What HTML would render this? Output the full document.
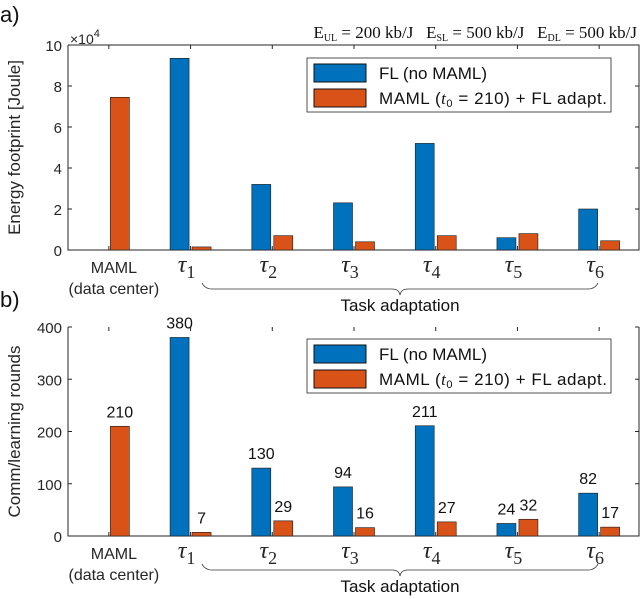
<!DOCTYPE html>
<html><head><meta charset="utf-8"><style>
html,body{margin:0;padding:0;background:#fff;}
svg{display:block;font-family:"Liberation Sans",sans-serif;}
</style></head><body>
<svg id="c" width="640" height="599" viewBox="0 0 640 599"></svg>
<script>
const categories=["MAML","τ1","τ2","τ3","τ4","τ5","τ6"];
const energyFL=[null,9.35,3.2,2.3,5.2,0.6,2.0];
const energyMAML=[7.45,0.15,0.7,0.4,0.7,0.8,0.45];
const roundsFL=[null,380,130,94,211,24,82];
const roundsMAML=[210,7,29,16,27,32,17];
const energyTicks=[0,2,4,6,8,10];
const roundsTicks=[0,100,200,300,400];

const NS="http://www.w3.org/2000/svg";
const svg=document.getElementById('c');
function mk(tag,attrs,parent){const e=document.createElementNS(NS,tag);for(const k in attrs)e.setAttribute(k,attrs[k]);(parent||svg).appendChild(e);return e;}
const X0=68,X1=640;
function xs(i){return X0+(i+0.5)*(X1-X0)/7;}
const BW=19,OFF=11;

function panel(cfg){
  const g=mk('g',{});
  
  
  const ys=v=>cfg.yb-(v-0)/(cfg.ymax)*(cfg.yb-cfg.yt);
  const ax=mk('path',{d:`M${X0} ${cfg.yt}V${cfg.yb}H${X1-1}V${cfg.yt}`+(cfg.topLine?`H${X0}`:''),fill:'none',stroke:'#262626','stroke-width':1},g);
  
  cfg.ticks.forEach(t=>{
    const y=ys(t);
    mk('line',{x1:X0,x2:X0+4,y1:y,y2:y,stroke:'#262626'},g);
    mk('line',{x1:X1-1,x2:X1-5,y1:y,y2:y,stroke:'#262626'},g);
    const tx=mk('text',{x:X0-6,y:y+6,'text-anchor':'end','font-size':15,fill:'#262626'},g);
    tx.textContent=t;
    
  });
  categories.forEach((c,i)=>{
    const x=xs(i);
    mk('line',{x1:x,x2:x,y1:cfg.yb,y2:cfg.yb-4,stroke:'#262626'},g);
    mk('line',{x1:x,x2:x,y1:cfg.yt,y2:cfg.yt+4,stroke:'#262626'},g);
    let lab;
    if(i===0){
      lab=mk('text',{x:x+5,y:cfg.yb+23,'text-anchor':'middle','font-size':16,fill:'#262626'},g);
      lab.textContent='MAML';
      const l2=mk('text',{x:x+5,y:cfg.yb+44,'text-anchor':'middle','font-size':16,fill:'#262626'},g);
      l2.textContent='(data center)';
      
    } else {
      lab=mk('text',{x:x-4,y:cfg.yb+22,'text-anchor':'middle','font-size':24,'font-style':'italic','font-family':'"Liberation Serif",serif',fill:'#262626'},g);
      lab.textContent='τ';
      const s=mk('tspan',{'font-size':18,'font-style':'normal',dy:6},lab);s.textContent=String(i);
    }
    
  });
  for(let i=0;i<categories.length;i++){
    const x=xs(i);
    if(cfg.fl[i]!=null){
      const y=ys(cfg.fl[i]);
      const r=mk('rect',{x:x-OFF-BW/2,y:y,width:BW,height:cfg.yb-y,fill:'#0072BD',stroke:'#1a1a1a','stroke-width':0.6},g);
      
      if(cfg.labels){const t=mk('text',{x:x-OFF,y:y-9,'text-anchor':'middle','font-size':16,fill:'#111'},g);t.textContent=cfg.fl[i];
        }
    }
    const y=ys(cfg.maml[i]);
    const r=mk('rect',{x:x+OFF-BW/2,y:y,width:BW,height:cfg.yb-y,fill:'#D95319',stroke:'#1a1a1a','stroke-width':0.6},g);
    
    if(cfg.labels){const t=mk('text',{x:x+OFF,y:y-9,'text-anchor':'middle','font-size':16,fill:'#111'},g);t.textContent=cfg.maml[i];
      }
  }
  const yt=mk('text',{x:0,y:0,'text-anchor':'middle','font-size':17,fill:'#262626',transform:`translate(${cfg.ytx},${(cfg.yt+cfg.yb)/2}) rotate(-90)`},g);
  yt.textContent=cfg.ytitle;
  const lg=mk('g',{},g);
  const ly=cfg.ly;
  mk('rect',{x:307,y:ly,width:304,height:54,fill:'#fff',stroke:'#262626','stroke-width':0.8},lg);
  mk('rect',{x:314,y:ly+6,width:52,height:18,fill:'#0072BD',stroke:'#111'},lg);
  mk('rect',{x:314,y:ly+31,width:52,height:18,fill:'#D95319',stroke:'#111'},lg);
  const t1=mk('text',{x:379,y:ly+21,'font-size':17,fill:'#111'},lg);t1.textContent='FL (no MAML)';
  
  const t2=mk('text',{x:379,y:ly+46,'font-size':17,fill:'#111',textLength:228},lg);
  t2.innerHTML='MAML (<tspan font-style="italic" font-family="Liberation Serif,serif">t</tspan><tspan font-size="11" dy="3">0</tspan><tspan dy="-3"> = 210) + FL adapt.</tspan>';
  
  const by=cfg.yb+cfg.bOff;
  const br=mk('path',{d:`M202 ${by}q3 6 10 6H392q7 0 8 6q1 -6 8 -6H588q7 0 10 -6`,fill:'none',stroke:'#333','stroke-width':0.8},g);
  
  const ta=mk('text',{x:400,y:by+cfg.tOff,'text-anchor':'middle','font-size':17,fill:'#111'},g);
  ta.textContent='Task adaptation';
}
panel({name:'energy-chart',yt:45,yb:250,ymax:10,ticks:energyTicks,fl:energyFL,maml:energyMAML,labels:false,ytitle:'Energy footprint [Joule]',ytx:20,ly:58,topLine:true,bOff:33,tOff:28});
panel({name:'rounds-chart',yt:327,yb:536,ymax:400,ticks:roundsTicks,fl:roundsFL,maml:roundsMAML,labels:true,ytitle:'Comm/learning rounds',ytx:20,ly:339,topLine:false,bOff:28,tOff:28});

function txt(s,a,name){const t=mk('text',a);t.innerHTML=s;return t;}
txt('a)',{x:0,y:22,'font-size':22,fill:'#111'},'panel-label-a');
txt('b)',{x:0,y:307,'font-size':22,fill:'#111'},'panel-label-b');
txt('×10<tspan font-size="11" dy="-7">4</tspan>',{x:70,y:44,'font-size':14,fill:'#262626'},'y-exponent');
const hd=txt('E<tspan font-size="10" dy="3">UL</tspan><tspan dy="-3"> = 200 kb/J   E</tspan><tspan font-size="10" dy="3">SL</tspan><tspan dy="-3"> = 500 kb/J   E</tspan><tspan font-size="10" dy="3">DL</tspan><tspan dy="-3"> = 500 kb/J</tspan>',{x:637,y:38,'text-anchor':'end','font-size':17,'font-family':'"Liberation Serif",serif',fill:'#111',style:'white-space:pre'},'efficiency-header');
</script>
</body></html>
